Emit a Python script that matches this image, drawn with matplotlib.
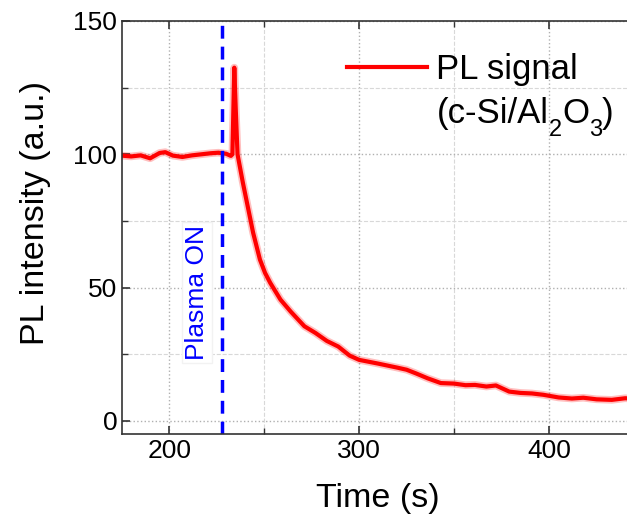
import matplotlib
matplotlib.use('Agg')
import matplotlib.pyplot as plt
from matplotlib.ticker import MultipleLocator

plt.rcParams['font.family'] = ['Liberation Sans', 'DejaVu Sans']

# PL 신호
time_s = [175, 180, 185, 190, 195, 198, 202, 207, 212, 217, 222, 226, 230, 232.5, 233.3,
          234.3, 235, 236, 238.8, 241.5, 244.2, 247.8, 250.5, 253.2, 258.6, 264, 271.2, 277, 283,
          289, 295, 300, 310, 320, 325, 330, 336, 343, 350, 356, 361, 367, 372, 379, 385,
          391, 397, 405, 412, 418, 425, 433, 440, 447, 455]
pl_signal = [99.5, 99.2, 99.6, 98.5, 100.5, 100.8, 99.5, 99.0, 99.6, 100.0, 100.4, 100.6, 100.2, 99.4, 100.0,
             132.5, 118, 100, 89.4, 80, 70.6, 60.5, 55.5, 51.8, 45.5, 41, 35.5, 33, 30,
             27.9, 24.5, 22.9, 21.5, 20, 19.2, 17.8, 16, 14.2, 14, 13.4, 13.5, 12.9, 13.3, 11, 10.5,
             10.3, 9.8, 8.8, 8.4, 8.7, 8.1, 7.9, 8.5, 8.3, 8.2]

plasma_on = 228
x_ticks = [200, 300, 400]
y_ticks = [0, 50, 100, 150]

fig = plt.figure(figsize=(6.27, 5.22), dpi=100)
ax = fig.add_axes([0.1946, 0.1686, 0.8254 + 0.02, 0.7912])

# 번진 점 느낌을 내기 위해 반투명한 굵은 선을 아래에 깔기
ax.plot(time_s, pl_signal, color='red', lw=5.5, alpha=0.25, solid_capstyle='round')
ax.plot(time_s, pl_signal, color='red', lw=3, label='PL signal')

ax.axvline(plasma_on, color='blue', lw=2.5, ls=(0, (3.7, 2.3)))
ax.text(218.3, 22.9, 'Plasma ON', rotation=90, rotation_mode='anchor', color='blue', fontsize=19,
        ha='left', va='baseline',
        bbox=dict(facecolor='white', edgecolor='#f2f2f2', pad=2))

ax.set_xlim(175.2, 454.2)
ax.set_ylim(-4.9, 150)
ax.set_xticks(x_ticks)
ax.set_yticks(y_ticks)
ax.xaxis.set_minor_locator(MultipleLocator(50))
ax.yaxis.set_minor_locator(MultipleLocator(25))
ax.grid(True, which='major', color='#b0b0b0', ls=':', lw=1)
ax.grid(True, which='minor', color='#d8d8d8', ls='--', lw=0.8)
ax.set_axisbelow(True)

ax.tick_params(which='both', direction='in', top=True, right=False, labelsize=19, colors='#333333',
               labelcolor='black')
ax.tick_params(which='major', length=6, width=1.2)
ax.tick_params(which='minor', length=4, width=1.0)
for sp in ax.spines.values():
    sp.set_color('#333333')
    sp.set_linewidth(1.2)

ax.set_xlabel('Time (s)', fontsize=24.5)
ax.set_ylabel('PL intensity (a.u.)', fontsize=24.5)
ax.xaxis.set_label_coords(0.482, -0.118)
ax.yaxis.set_label_coords(-0.134, 0.536)

# 범례: 선은 첫 줄에 맞추고 둘째 줄은 따로 쓰기
leg = ax.legend(loc='upper left', bbox_to_anchor=(0.4245, 0.923), fontsize=25, handlelength=2.3,
                handletextpad=0.27, borderpad=0, borderaxespad=0, frameon=False)

# 아래첨자를 원본처럼 더 낮게 붙이기 위해 조각으로 이어 붙인다
line2_y = 0.753
prev = ax.text(0.594, line2_y, '(c-Si/Al', transform=ax.transAxes, fontsize=25,
               ha='left', va='baseline')
for s, fs, dy in [('2', 17, -9.4), ('O', 25, 0), ('3', 17, -9.4), (')', 25, 0)]:
    prev = ax.annotate(s, xy=(1, line2_y), xycoords=(prev, 'axes fraction'),
                       xytext=(0, dy), textcoords='offset points', fontsize=fs,
                       ha='left', va='baseline')

fig.savefig('out.png', dpi=100)
